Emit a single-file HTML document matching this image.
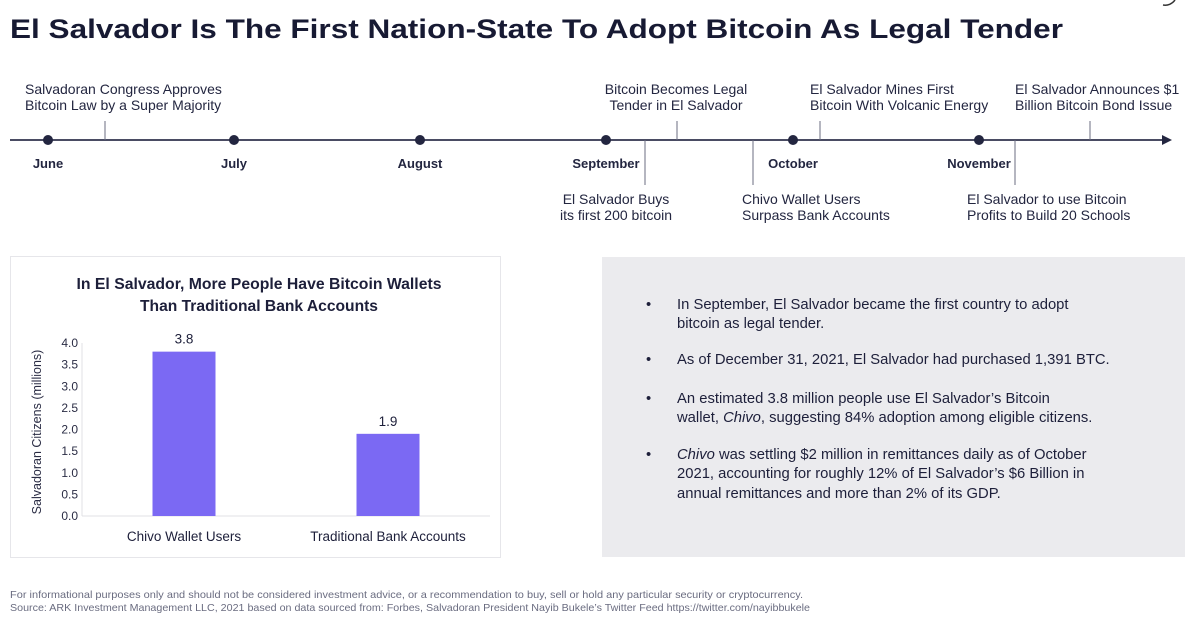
<!DOCTYPE html>
<html><head><meta charset="utf-8">
<style>
html,body{margin:0;padding:0;background:#fff;width:1200px;height:627px;overflow:hidden;font-family:"Liberation Sans",sans-serif;}
svg text{font-family:"Liberation Sans",sans-serif;}
</style></head>
<body>
<svg width="1200" height="627" viewBox="0 0 1200 627">
  <text x="10" y="38" font-size="27" font-weight="bold" fill="#171a33" textLength="1053" lengthAdjust="spacingAndGlyphs">El Salvador Is The First Nation-State To Adopt Bitcoin As Legal Tender</text>
  <path d="M1175,0 a12,12 0 0 1 -12,5" stroke="#333" fill="none" stroke-width="1.5"/>

  <g id="timeline">
    <line x1="10" y1="140" x2="1165" y2="140" stroke="#4a4c63" stroke-width="2"/>
    <polygon points="1172,140 1162,135 1162,145" fill="#232640"/>
  </g>

  <g id="chart">
    <rect x="10.5" y="256.5" width="490" height="301" fill="#fff" stroke="#e6e6ea"/>
    <text x="259" y="289" font-size="16" font-weight="bold" fill="#1d1f3a" text-anchor="middle" textLength="365" lengthAdjust="spacingAndGlyphs">In El Salvador, More People Have Bitcoin Wallets</text>
    <text x="259" y="311" font-size="16" font-weight="bold" fill="#1d1f3a" text-anchor="middle" textLength="238" lengthAdjust="spacingAndGlyphs">Than Traditional Bank Accounts</text>
    <text transform="translate(41,432) rotate(-90)" font-size="12.5" fill="#2a2c44" text-anchor="middle">Salvadoran Citizens (millions)</text>
  </g>

  <rect x="602" y="257" width="583" height="300" fill="#ebebee"/>
  <g font-size="14.8" fill="#1d1f3a">
    <text x="646" y="309">•</text>
    <text x="677" y="309">In September, El Salvador became the first country to adopt</text>
    <text x="677" y="328">bitcoin as legal tender.</text>
    <text x="646" y="364">•</text>
    <text x="677" y="364">As of December 31, 2021, El Salvador had purchased 1,391 BTC.</text>
    <text x="646" y="403">•</text>
    <text x="677" y="403">An estimated 3.8 million people use El Salvador’s Bitcoin</text>
    <text x="677" y="422">wallet, <tspan font-style="italic">Chivo</tspan>, suggesting 84% adoption among eligible citizens.</text>
    <text x="646" y="459">•</text>
    <text x="677" y="459"><tspan font-style="italic">Chivo</tspan> was settling $2 million in remittances daily as of October</text>
    <text x="677" y="478">2021, accounting for roughly 12% of El Salvador’s $6 Billion in</text>
    <text x="677" y="498">annual remittances and more than 2% of its GDP.</text>
  </g>

  <text x="10" y="598" font-size="10.5" fill="#6a6c80" textLength="793" lengthAdjust="spacingAndGlyphs">For informational purposes only and should not be considered investment advice, or a recommendation to buy, sell or hold any particular security or cryptocurrency.</text>
  <text x="10" y="611" font-size="10.5" fill="#6a6c80" textLength="800" lengthAdjust="spacingAndGlyphs">Source: ARK Investment Management LLC, 2021 based on data sourced from: Forbes, Salvadoran President Nayib Bukele’s Twitter Feed https://twitter.com/nayibbukele</text>
</svg>
<script>
const NS='http://www.w3.org/2000/svg';
const months=['June','July','August','September','October','November'];
const monthX=[48,234,420,606,793,979];
const eventLines=[
 ['Salvadoran Congress Approves','Bitcoin Law by a Super Majority'],
 ['Bitcoin Becomes Legal','Tender in El Salvador'],
 ['El Salvador Mines First','Bitcoin With Volcanic Energy'],
 ['El Salvador Announces $1','Billion Bitcoin Bond Issue'],
 ['El Salvador Buys','its first 200 bitcoin'],
 ['Chivo Wallet Users','Surpass Bank Accounts'],
 ['El Salvador to use Bitcoin','Profits to Build 20 Schools']];
const eventTickX=[105,677,820,1090,645,753,1015];
const eventSide=['up','up','up','up','down','down','down'];
const eventTextX=[25,676,810,1015,616,742,967];
const eventAnchor=['start','middle','start','start','middle','start','start'];

const categories=['Chivo Wallet Users','Traditional Bank Accounts'];
const values=[3.8,1.9];
const valueLabels=['3.8','1.9'];
const yTicks=[0,0.5,1,1.5,2,2.5,3,3.5,4];
const yTickLabels=['0.0','0.5','1.0','1.5','2.0','2.5','3.0','3.5','4.0'];

function mk(tag,attrs,parent,txt){const e=document.createElementNS(NS,tag);for(const k in attrs)e.setAttribute(k,attrs[k]);if(txt!=null)e.textContent=txt;parent.appendChild(e);return e;}

const tl=document.getElementById('timeline');
months.forEach((m,i)=>{
  const c=mk('circle',{cx:monthX[i],cy:140,r:5,fill:'#232640'},tl);
  
  
  const t=mk('text',{x:monthX[i],y:168,'font-size':13,'font-weight':'bold','text-anchor':'middle',fill:'#232640'},tl,m);
  
  
});
eventLines.forEach((ls,i)=>{
  const up=eventSide[i]==='up';
  const l=mk('line',{x1:eventTickX[i],x2:eventTickX[i],y1:up?121:140,y2:up?140:185,stroke:'#6b6d80','stroke-width':1},tl);
  
  
  const y0=up?94:204;
  ls.forEach((s,j)=>{
    const t=mk('text',{x:eventTextX[i],y:y0+j*16,'font-size':14,'text-anchor':eventAnchor[i],fill:'#232640'},tl,s);
    
    
  });
});

const ch=document.getElementById('chart');
const x0=82,x1=490,yBase=516,yTop=343,yMax=4;
const ys=v=>yBase-(v/yMax)*(yBase-yTop);
const band=(x1-x0)/categories.length;
const xc=i=>x0+band*(i+0.5);
yTicks.forEach((v,i)=>{
  const t=mk('text',{x:78,y:ys(v)+4,'font-size':12,'text-anchor':'end',fill:'#2a2c44'},ch,yTickLabels[i]);
  
  
});
const ax=mk('line',{x1:x0,x2:x1,y1:yBase,y2:yBase,stroke:'#e0e0e4'},ch);


const ay=mk('line',{x1:x0,x2:x0,y1:yTop,y2:yBase,stroke:'#e0e0e4'},ch);


categories.forEach((c,i)=>{
  const bw=63,cx=xc(i);
  const r=mk('rect',{x:cx-bw/2,y:ys(values[i]),width:bw,height:yBase-ys(values[i]),fill:'#7b69f3'},ch);
  
  
  const v=mk('text',{x:cx,y:ys(values[i])-8,'font-size':13.5,'text-anchor':'middle',fill:'#1d1f3a'},ch,valueLabels[i]);
  
  
  const t=mk('text',{x:cx,y:541,'font-size':13.5,'text-anchor':'middle',fill:'#1d1f3a'},ch,c);
  
  
});
</script>
</body></html>
